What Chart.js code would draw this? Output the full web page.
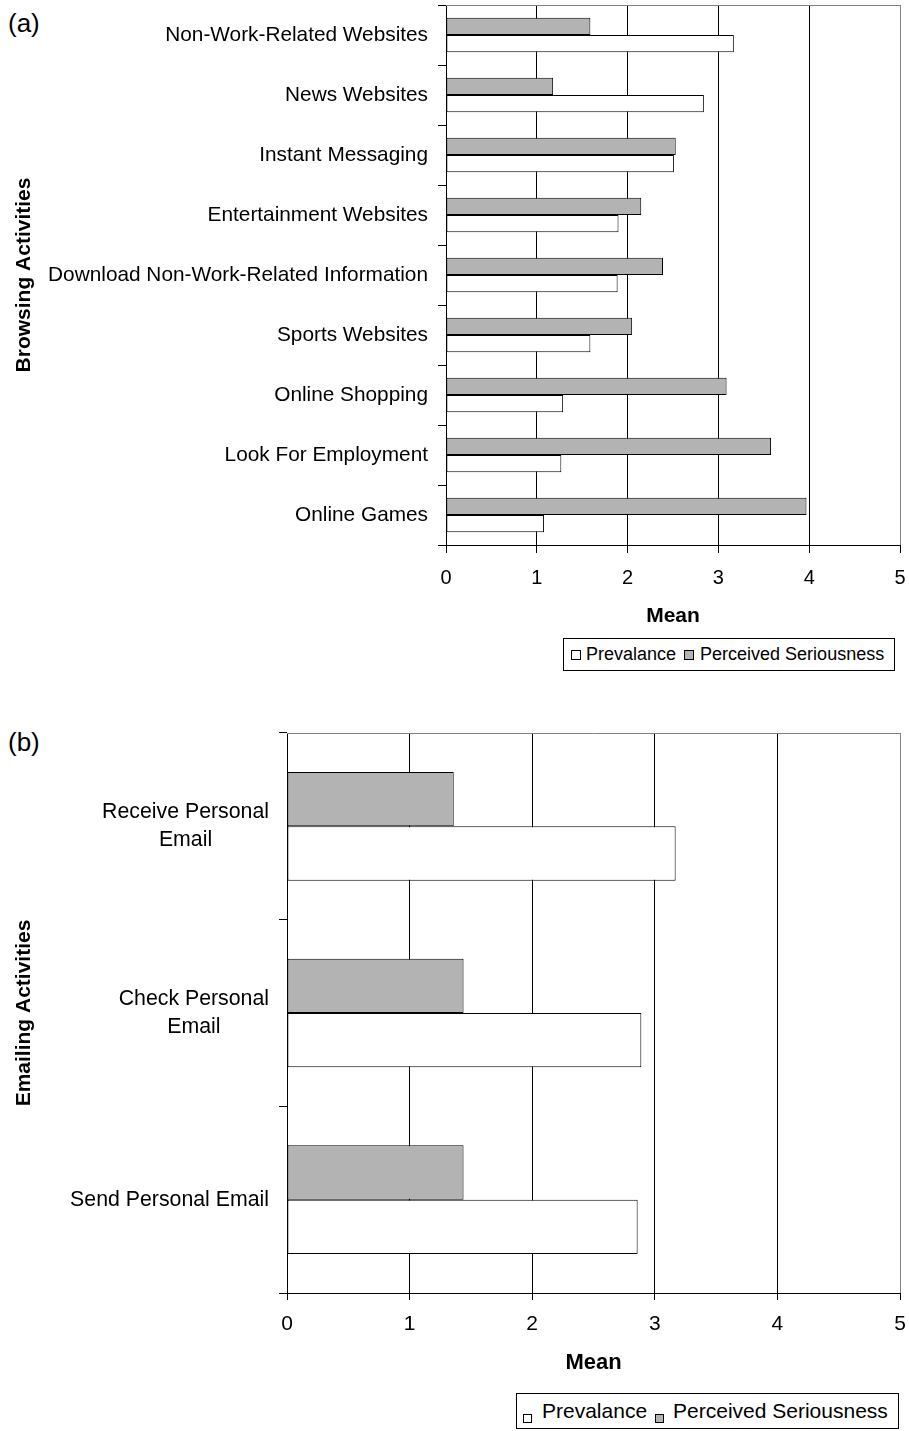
<!DOCTYPE html>
<html lang="en">
<head>
<meta charset="utf-8" />
<title>Browsing and emailing activities: prevalance vs perceived seriousness</title>
<script src="https://cdn.jsdelivr.net/npm/chart.js@4/dist/chart.umd.min.js"></script>
<style>
  body { margin: 0; background: #fff; font-family: 'Liberation Sans', Arial, sans-serif; color: #000; }
  #page { position: relative; width: 909px; height: 1431px; overflow: hidden; }
  canvas { position: absolute; left: 0; }
  .tag { position: absolute; left: 8px; font-size: 26px; line-height: 26px; }
  .legend { position: absolute; box-sizing: border-box; border: 1px solid #000; background: #fff;
            display: flex; align-items: center; white-space: nowrap; }
  .sw { display: inline-block; box-sizing: border-box; border: 1px solid #000; flex: none; }
</style>
</head>
<body>
<div id="page">
  <div class="tag" style="top:10px">(a)</div>
  <canvas id="chart0" width="909" height="640" style="top:0"></canvas>
  <div class="legend" style="left:563px;top:638px;width:332px;height:33px;font-size:18px;padding-left:7px">
    <span class="sw" style="width:10px;height:10px;background:#fff;margin-right:5px"></span><span>Prevalance</span>
    <span class="sw" style="width:10px;height:10px;background:#b3b3b3;margin:0 6px 0 8px"></span><span>Perceived Seriousness</span>
  </div>

  <div class="tag" style="top:729px">(b)</div>
  <canvas id="chart1" width="909" height="690" style="top:700px"></canvas>
  <div class="legend" style="left:516px;top:1393px;width:383px;height:36px;font-size:21px;padding-left:6px">
    <span class="sw" style="width:9px;height:9px;background:#fff;margin-right:10px;position:relative;top:7px"></span><span>Prevalance</span>
    <span class="sw" style="width:9px;height:9px;background:#b3b3b3;margin:0 9px 0 8px;position:relative;top:7px"></span><span>Perceived Seriousness</span>
  </div>
</div>

<script>
  Chart.defaults.font.family = "'Liberation Sans', Arial, sans-serif"
  Chart.defaults.color = "#000"

  // (a) browsing activities, top to bottom
  const browsingLabels = [
    "Non-Work-Related Websites",
    "News Websites",
    "Instant Messaging",
    "Entertainment Websites",
    "Download Non-Work-Related Information",
    "Sports Websites",
    "Online Shopping",
    "Look For Employment",
    "Online Games",
  ]
  const browsingPrevalance = [3.17, 2.84, 2.51, 1.9, 1.89, 1.59, 1.29, 1.27, 1.08]
  const browsingSeriousness = [1.59, 1.18, 2.53, 2.15, 2.39, 2.05, 3.09, 3.58, 3.97]

  // (b) emailing activities
  const emailLabels = [["Receive Personal", "Email"], ["Check Personal", "Email"], "Send Personal Email"]
  const emailPrevalance = [3.17, 2.89, 2.86]
  const emailSeriousness = [1.36, 1.44, 1.44]

  // mean axis
  const meanMin = 0
  const meanMax = 5
  const meanStep = 1

  const GREY = "#b3b3b3"

  // grey plot-area border along the top
  const frame = {
    id: "frame",
    beforeDatasetsDraw(chart) {
      const { ctx, chartArea: a } = chart
      ctx.save()
      ctx.strokeStyle = "#808080"
      ctx.lineWidth = 1
      ctx.beginPath()
      ctx.moveTo(a.left, Math.round(a.top) + 0.5)
      ctx.lineTo(a.right, Math.round(a.top) + 0.5)
      ctx.stroke()
      ctx.restore()
    },
  }

  // category labels: right aligned as a block, wrapped lines centred
  const sideLabels = {
    id: "sideLabels",
    afterDraw(chart, args, o) {
      const ctx = chart.ctx
      const s = chart.scales.y
      ctx.save()
      ctx.font = o.size + "px 'Liberation Sans', Arial, sans-serif"
      ctx.fillStyle = "#000"
      ctx.textAlign = "center"
      ctx.textBaseline = "middle"
      chart.data.labels.forEach((lab, i) => {
        const lines = [].concat(lab)
        const w = Math.max(...lines.map(t => ctx.measureText(t).width))
        const x = s.right - o.gap - w / 2
        const y0 = s.getPixelForValue(i) - ((lines.length - 1) * o.lineHeight) / 2
        lines.forEach((t, k) => ctx.fillText(t, x, y0 + k * o.lineHeight))
      })
      ctx.restore()
    },
  }

  function makeChart(id, labels, prevalance, seriousness, s) {
    return new Chart(document.getElementById(id), {
      type: "bar",
      data: {
        labels: labels,
        datasets: [
          { label: "Perceived Seriousness", data: seriousness, backgroundColor: GREY },
          { label: "Prevalance", data: prevalance, backgroundColor: "#ffffff" },
        ],
      },
      plugins: [frame, sideLabels],
      options: {
        indexAxis: "y",
        responsive: false,
        animation: false,
        events: [],
        layout: { padding: { top: s.top, right: 9, bottom: 0, left: 0 } },
        datasets: {
          bar: {
            categoryPercentage: s.band,
            barPercentage: 1,
            borderColor: "#000",
            borderWidth: 1,
            borderSkipped: false,
          },
        },
        scales: {
          x: {
            min: meanMin,
            max: meanMax,
            ticks: { stepSize: meanStep, padding: s.tickPad, font: { size: s.tickSize } },
            grid: {
              color: c => (c.tick && c.tick.value === meanMax ? "#808080" : "#000"),
              tickColor: "#000",
              tickLength: s.tick,
            },
            border: { color: "#000" },
            title: {
              display: true,
              text: "Mean",
              font: { size: s.meanSize, weight: "bold" },
              padding: { top: 0, bottom: s.meanPad },
            },
            afterFit: a => {
              a.height = s.xHeight
              // the edge labels fit inside the page margin
              a.paddingLeft = 0
              a.paddingRight = 0
            },
          },
          y: {
            offset: true,
            grid: { drawOnChartArea: false, offset: true, color: "#000", tickLength: 8 },
            border: { color: "#000" },
            ticks: { display: false },
            title: {
              display: true,
              text: s.yTitle,
              font: { size: 21, weight: "bold" },
              padding: { top: 12, bottom: 0 },
            },
            afterFit: a => {
              a.width = s.yWidth
              a.paddingTop = 0
              a.paddingBottom = 0
            },
          },
        },
        plugins: {
          legend: { display: false },
          tooltip: { enabled: false },
          sideLabels: { size: s.labelSize, lineHeight: s.lineHeight, gap: 18 },
        },
      },
    })
  }

  var chart0 = makeChart("chart0", browsingLabels, browsingPrevalance, browsingSeriousness, {
    top: 5, yWidth: 446, xHeight: 95, band: 0.575,
    tick: 8, tickPad: 13.5, tickSize: 20,
    meanSize: 21, meanPad: 11.4,
    yTitle: "Browsing Activities", labelSize: 20.8, lineHeight: 26,
  })

  var chart1 = makeChart("chart1", emailLabels, emailPrevalance, emailSeriousness, {
    top: 33, yWidth: 287, xHeight: 97, band: 0.582,
    tick: 7, tickPad: 11.2, tickSize: 21,
    meanSize: 22, meanPad: 13.8,
    yTitle: "Emailing Activities", labelSize: 21.3, lineHeight: 27.7,
  })
</script>
</body>
</html>
